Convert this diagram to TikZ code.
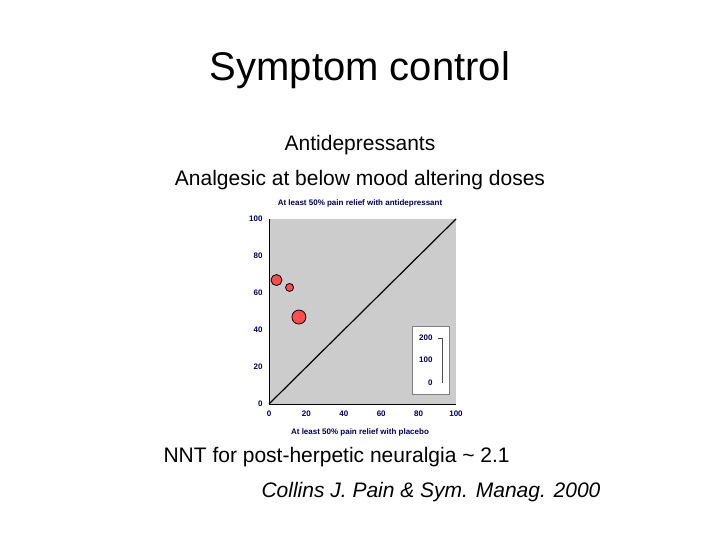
\documentclass[tikz,border=0pt]{standalone}
\usepackage{fontspec}
\setmainfont{Liberation Sans}
\begin{document}
\begin{tikzpicture}[x=1pt,y=-1pt,
  ax/.style={font=\fontsize{8}{9}\selectfont\bfseries,text=blue!35!black},
  dot/.style={circle,draw=black,line width=0.8pt,fill=red!70!white,inner sep=0pt},
  body/.style={font=\fontsize{21}{24}\selectfont}]
\useasboundingbox (0,0) rectangle (720,540);
\node (title) at (360,70) {\fontsize{40}{44}\selectfont Symptom control};
\node[body] (t1) at (360,145) {Antidepressants};
\node[body] (t2) at (360,180) {Analgesic at below mood altering doses};
% plot
\fill[gray!40] (269,219) rectangle (456,404);
\draw[line width=0.8pt] (269,219) -- (269,404) -- (456,404);
\draw[line width=1.2pt] (269,404) -- (456,219);
\foreach \v in {0,20,40,60,80,100}{
  \node[ax,anchor=east] at (266,{404-1.85*\v}) {\v};
  \node[ax,anchor=north] at ({269+1.87*\v},407) {\v};
}
\node[ax] (yl) at (360,203) {At least 50\% pain relief with antidepressant};
\node[ax] (xl) at (360,432) {At least 50\% pain relief with placebo};
\node[dot,minimum size=11pt] (p1) at ({269+1.87*4},{404-1.85*67}) {};
\node[dot,minimum size=8pt] (p2) at ({269+1.87*11},{404-1.85*63}) {};
\node[dot,minimum size=14pt] (p3) at ({269+1.87*16},{404-1.85*47}) {};
% legend
\node[draw=gray,fill=white,minimum width=37pt,minimum height=68pt,anchor=north west] (leg) at (412,326) {};
\node[ax,anchor=east] at (436,338) {200};
\node[ax,anchor=east] at (436,360) {100};
\node[ax,anchor=east] at (436,383) {0};
\draw[gray!60!black] (438,338) -- (442,338) -- (442,383);
\node[body,anchor=west] (nnt) at (160,457) {NNT for post-herpetic neuralgia \textasciitilde{} 2.1};
\node[body,anchor=west] (ref) at (258,492) {\itshape Collins J. Pain \& Sym. Manag. 2000};
\end{tikzpicture}
\end{document}
